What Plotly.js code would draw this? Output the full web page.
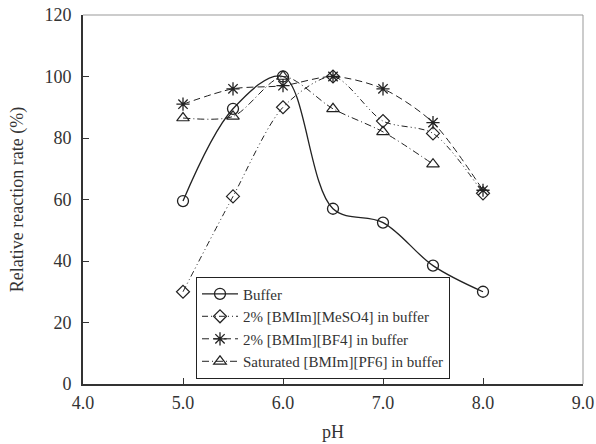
<!DOCTYPE html>
<html>
<head>
<meta charset="utf-8">
<script src="https://cdn.plot.ly/plotly-3.0.1.min.js"></script>
<style>html,body{margin:0;padding:0;background:#fff;}#chart{width:596px;height:444px;}</style>
</head>
<body>
<div id="chart"></div>
<script>
const pH = [5.0, 5.5, 6.0, 6.5, 7.0, 7.5, 8.0];
const pH_pf6 = [5.0, 5.5, 6.0, 6.5, 7.0, 7.5];
const buffer = [59.5, 89.5, 100, 57, 52.5, 38.5, 30];
const meso4 = [30, 61, 90, 100, 85.5, 81.5, 62];
const bf4 = [91, 96, 97, 100, 96, 85, 63];
const pf6 = [86.5, 87, 100, 89.5, 82, 71.5];
const names = ["Buffer", "2% [BMIm][MeSO4] in buffer", "2% [BMIm][BF4] in buffer", "Saturated [BMIm][PF6] in buffer"];

const ink = '#222';
const fam = 'Liberation Serif, Times New Roman, serif';
const traces = [
  {x: pH, y: buffer, name: names[0], mode: 'lines+markers',
   line: {color: ink, width: 1.3, shape: 'spline', smoothing: 1},
   marker: {symbol: 'circle-open', size: 11, color: ink, line: {width: 1.3}}},
  {x: pH, y: meso4, name: names[1], mode: 'lines+markers',
   line: {color: ink, width: 1, shape: 'spline', smoothing: 0.8, dash: '6px,3px,1px,3px,1px,3px'},
   marker: {symbol: 'diamond-open', size: 10, color: ink, line: {width: 1.2}}},
  {x: pH, y: bf4, name: names[2], mode: 'lines+markers',
   line: {color: ink, width: 1, shape: 'spline', smoothing: 0.8, dash: '7px,4px'},
   marker: {symbol: 'asterisk-open', size: 11, color: ink, line: {width: 1.3}}},
  {x: pH_pf6, y: pf6, name: names[3], mode: 'lines+markers',
   line: {color: ink, width: 1, shape: 'spline', smoothing: 0.8, dash: '7px,3px,1px,3px'},
   marker: {symbol: 'triangle-up-open', size: 11, color: ink, line: {width: 1.2}}}
];

const font = {family: fam, size: 18, color: '#333'};
const layout = {
  width: 596, height: 444,
  margin: {l: 83, r: 13, t: 15, b: 60},
  paper_bgcolor: '#fff', plot_bgcolor: '#fff',
  font: font,
  showlegend: true,
  legend: {x: 0.226, y: 0.153, xanchor: 'left', yanchor: 'middle',
           bordercolor: '#222', borderwidth: 1, bgcolor: '#fff',
           font: {family: fam, size: 15, color: '#333'},
           tracegroupgap: 0, itemwidth: 36},
  xaxis: {range: [4, 9], dtick: 1, tickformat: '.1f', showgrid: false, zeroline: false,
          showline: true, linecolor: '#333', linewidth: 2, ticks: 'inside', ticklen: 6,
          tickcolor: '#333', ticklabelstandoff: 1,
          tickfont: {family: fam, size: 18, color: '#333'},
          title: {text: 'pH', font: {family: fam, size: 18, color: '#333'}, standoff: 14}},
  yaxis: {range: [0, 120], dtick: 20, showgrid: false, zeroline: false,
          showline: true, linecolor: '#333', linewidth: 2, ticks: 'inside', ticklen: 6,
          tickcolor: '#333', ticklabelstandoff: 6,
          tickfont: {family: fam, size: 18, color: '#333'},
          title: {text: 'Relative reaction rate (%)', font: {family: fam, size: 18, color: '#333'}, standoff: 16}},
  shapes: [
    {type: 'line', xref: 'paper', yref: 'paper', x0: 0, x1: 1, y0: 1, y1: 1, line: {color: '#999', width: 1}},
    {type: 'line', xref: 'paper', yref: 'paper', x0: 1, x1: 1, y0: 0, y1: 1, line: {color: '#999', width: 1}}
  ]
};
Plotly.newPlot('chart', traces, layout, {displayModeBar: false, staticPlot: true});
</script>
</body>
</html>
